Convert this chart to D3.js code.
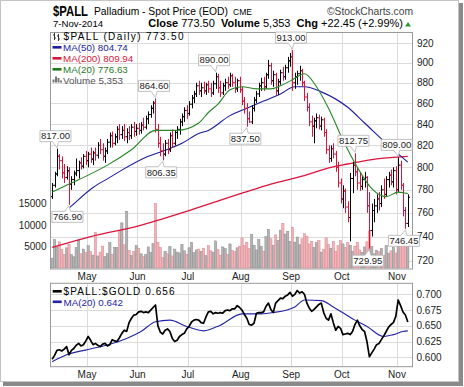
<!DOCTYPE html>
<html><head><meta charset="utf-8">
<script src="https://cdn.jsdelivr.net/npm/d3@7"></script>
<style>body{margin:0;background:#fff}svg{display:block}text{font-family:"Liberation Sans",Arial,sans-serif}</style>
</head><body><svg id="c" width="464" height="387"></svg>
<script>
// ---------- DATA ----------
const openP=[774,784,794,810,806,795,791,796,785,789,
795,797,804,801,810,806,812,807,813,811,
820,816,810,815,823,829,822,828,835,830,
834,828,832,829,837,833,836,834,839,837,
845,849,855,860,835,822,815,812,822,816,
829,822,832,835,842,847,853,850,859,865,
869,877,872,875,872,878,874,870,879,886,
875,870,877,880,878,887,880,874,882,873,
862,855,845,842,855,863,869,877,880,876,
888,897,882,888,872,881,890,886,895,902,
906,880,886,889,892,880,866,856,842,838,
843,846,838,844,832,816,808,817,812,800,
786,772,779,765,756,790,802,796,786,783,
789,791,766,745,762,766,772,768,780,776,
789,793,787,797,780,802,784,762,751];
const highP=[786,796,817,812,810,803,801,800,792,797,
808,806,809,812,815,814,818,815,818,823,
826,822,818,826,832,833,831,838,840,838,
840,836,838,840,842,840,841,842,846,848,
852,858,862,864.6,840,828,822,825,826,832,
835,834,838,845,850,856,858,862,868,872,
880,882,880,881,880,882,880,882,890,889,
882,880,884,886,890,889,886,884,886,876,
866,860,852,858,866,872,880,885,886,890,
903,900,892,890,884,893,896,898,906,910,
913,890,892,897,894,882,870,860,848,846,
850,849,847,846,835,820,820,822,815,805,
790,784,781,770,795,805,812.75,800,795,792,
796,792,778,768,772,776,778,784,790,792,
796,798,800,801,809,806,786,765,776];
const lowP=[772,782,792,798,790,786,789,766.9,780,784,
792,790,798,799,802,800,804,802,806,808,
812,806,804,812,818,818,820,822,825,826,
824,822,825,826,828,829,830,831,834,835,
840,846,850,832,818,810,806.35,810,812,814,
818,820,826,830,838,842,845,848,855,860,
866,868,866,869,868,870,866,868,874,870,
866,868,872,874,876,876,870,871,870,858,
850,837.5,841,840,852,860,866,872,872,874,
884,878,876,868,868,878,882,883,890,896,
872,874,878,882,876,862,852,838,828,822,
836,835,834,828,812,804,805,808,796,782,
768,764,760,752,736,777,792,780,779,780,
782,760,729.95,740,752,760,762,765,772,774,
782,784,782,776,778,780,757,746.45,748];
const closeP=[784,794,810,806,795,791,797,785,789,794,
797,804,801,810,806,812,808,813,811,820,
816,810,815,823,829,822,828,835,830,834,
828,832,829,837,833,836,834,839,837,845,
849,855,860,835,822,815,812,822,816,829,
822,832,835,842,847,853,850,859,865,869,
877,872,875,872,878,874,870,879,886,875,
870,877,880,878,887,880,874,882,873,862,
855,845,842,855,863,869,877,880,876,888,
897,882,888,872,881,890,886,895,902,906,
880,886,889,892,880,866,856,842,838,843,
846,838,844,832,816,808,817,812,800,786,
772,779,765,756,790,802,796,786,783,789,
791,766,745,762,766,772,768,780,776,789,
793,787,797,780,802,784,762,751.05,773.5];
const volume=[2300,6600,4900,6100,4300,3200,4700,5500,3100,2600,
4800,6500,3300,4400,3600,5200,3800,3000,8300,2800,
3700,5100,2700,3400,5900,3200,4800,4800,8700,10500,
5400,13200,4100,2900,3800,5200,4600,3300,2700,3100,
4900,3600,5700,15000,6000,4800,2400,3900,3300,5000,
2800,4400,3700,3500,5500,4000,3200,4700,6000,3600,
4200,4400,3900,4600,2900,5200,4000,3700,6300,4300,
3000,4900,4500,3200,5600,4100,3800,4700,5100,7000,
5200,6000,4500,7800,5300,4200,6600,5000,3900,7300,
9000,6800,5300,7700,6400,8800,10400,7900,8500,6200,
9500,6000,7200,5400,6800,8000,7400,5600,6200,4800,
5900,6400,3700,4300,7000,5500,4600,6200,3900,5200,
6400,5600,4800,5900,5300,3900,5100,6000,4200,3600,
4900,6100,8600,5000,3300,4100,3800,4500,2900,5200,
3400,4000,4800,3500,5800,6100,5200,5600,5353];
const ratio=[0.597,0.603,0.611,0.612,0.610,0.613,0.617,0.604,0.611,0.614,
0.619,0.622,0.618,0.620,0.626,0.633,0.627,0.620,0.622,0.619,
0.617,0.621,0.622,0.618,0.620,0.628,0.626,0.625,0.631,0.638,
0.643,0.641,0.655,0.662,0.667,0.668,0.672,0.673,0.671,0.672,
0.671,0.675,0.679,0.683,0.650,0.640,0.637,0.643,0.645,0.641,
0.630,0.625,0.627,0.633,0.636,0.638,0.645,0.649,0.656,0.659,
0.660,0.659,0.655,0.654,0.664,0.672,0.673,0.669,0.671,0.670,
0.671,0.670,0.674,0.675,0.674,0.677,0.677,0.682,0.679,0.675,
0.668,0.662,0.652,0.651,0.654,0.670,0.671,0.671,0.672,0.681,
0.686,0.676,0.671,0.686,0.690,0.694,0.693,0.697,0.699,0.703,
0.697,0.700,0.706,0.702,0.704,0.700,0.686,0.678,0.673,0.676,
0.680,0.684,0.686,0.671,0.662,0.659,0.669,0.655,0.643,0.649,
0.646,0.636,0.637,0.638,0.636,0.641,0.652,0.659,0.650,0.644,
0.641,0.625,0.601,0.607,0.613,0.620,0.622,0.628,0.634,0.641,
0.648,0.652,0.655,0.665,0.691,0.682,0.672,0.667,0.656];
// moving averages at sample bars
const ma20Idx=[0,8,15,23,33,43,52,61,65,69,74,79,85,91,95,100,105,110,115,121,127,133,139,144,148];
const ma20Val=[778,786,793,802,816,834,834,841,851,859,873,876,874,874,877,883,889,876,855,825,800,781,774,778,776.63];
const ma50Idx=[0,7,17,24,29,40,45,54,61,65,74,81,88,95,101,105,112,123,130,141,148];
const ma50Val=[752,764,782,791,797.5,810,814,822,831,834,848,855,862,869,876,876,871,856,841,818,804.74];
const ma200Idx=[0,16,36,57,79,91,104,116,123,133,148];
const ma200Val=[731,740,749,762,777,785,792,800,803,807,809.94];
const rMaIdx=[0,6,15,23,31,37,43,49,56,63,70,79,87,92,101,105,112,117,126,131,138,142,146,148];
const rMaVal=[0.593,0.604,0.6125,0.6195,0.630,0.641,0.6565,0.659,0.649,0.642,0.651,0.669,0.669,0.671,0.680,0.691,0.690,0.680,0.659,0.649,0.633,0.636,0.641,0.642];
const monthLabels=["May","Jun","Jul","Aug","Sep","Oct","Nov"];
const monthIdx=[15,36,57,79,100,121,144];
const priceTicks=[920,900,880,860,840,820,800,780,760,740,720];
const volTicks=[5000,10000,15000];
const ratioTicks=[0.600,0.625,0.650,0.675,0.700];
const annIdx=[2,7,43,46,68,81,100,126,132,144,147];
const annVal=[817.00,766.90,864.60,806.35,890.00,837.50,913.00,812.75,729.95,809.00,746.45];
const annPos=["hi","lo","hi","lo","hi","lo","hi","hi","lo","hi","lo"];

// ---------- LAYOUT ----------
const svg=d3.select("#c");
const P={l:50,r:413,t:32,b:268.5}, L={t:283.3,b:366.7};
const N=closeP.length;
const x=d3.scaleLinear().domain([-0.9,150.16]).range([P.l,P.r]);
const y=d3.scaleLog().domain([713.8,931.8]).range([P.b,P.t]);
const yv=d3.scaleLinear().domain([0,15000]).range([268,203.5]);
const yr=d3.scaleLinear().domain([0.6,0.7]).range([357.3,294.3]);
const up=i=> i===0 ? true : closeP[i]>=closeP[i-1];
const RED="#d9133a";

// frame with shadow
svg.append("rect").attr("x",3).attr("y",3).attr("width",460).attr("height",383).attr("fill","#8a8a8a");
svg.append("rect").attr("x",0.5).attr("y",0.5).attr("width",458).attr("height",381).attr("fill","#fff").attr("stroke","#c4c4c4");

// header
svg.append("text").attr("x",53).attr("y",16).attr("font-size",15).attr("font-weight","bold")
  .attr("textLength",35).attr("lengthAdjust","spacingAndGlyphs").text("$PALL");
svg.append("text").attr("x",94).attr("y",15).attr("font-size",10.3).text("Palladium - Spot Price (EOD)");
svg.append("text").attr("x",233).attr("y",15).attr("font-size",8.5).attr("font-family","DejaVu Sans Mono").text("CME");
svg.append("text").attr("x",413).attr("y",14.5).attr("font-size",10.3).attr("text-anchor","end").attr("fill","#444").text("©StockCharts.com");
svg.append("text").attr("x",53).attr("y",27).attr("font-size",9.6).text("7-Nov-2014");
const hl=svg.append("text").attr("x",403).attr("y",27).attr("font-size",11).attr("text-anchor","end");
[["Close ",1],["773.50  ",0],["Volume ",1],["5,353  ",0],["Chg ",1],["+22.45 (+2.99%)",0]].forEach(([t,b])=>{
  hl.append("tspan").attr("font-weight",b?"bold":"normal").attr("xml:space","preserve").text(t);
});
svg.append("path").attr("d","M405,26.5 L411,26.5 L408,22 Z").attr("fill","#2e9a2e");

// ---------- MAIN PANEL ----------
const g=svg.append("g");
const gx=i=>Math.round(x(i-0.5))+0.5;
g.selectAll("line.hg").data(priceTicks).join("line")
  .attr("x1",P.l).attr("x2",P.r).attr("y1",d=>Math.round(y(d))+0.5).attr("y2",d=>Math.round(y(d))+0.5)
  .attr("stroke","#dcdcdc");
g.selectAll("line.vg").data(monthIdx).join("line")
  .attr("x1",gx).attr("x2",gx).attr("y1",P.t).attr("y2",P.b).attr("stroke","#dcdcdc");

// volume
g.selectAll("rect.vol").data(d3.range(N)).join("rect")
  .attr("x",i=>x(i)-1.15).attr("width",2.3)
  .attr("y",i=>yv(volume[i])).attr("height",i=>yv(0)-yv(volume[i]))
  .attr("fill",i=>up(i)?"#b4b4b4":"#f1b3b8").attr("stroke",i=>up(i)?"#8a8a8a":"#d88a92").attr("stroke-width",0.5);

// MAs
const maLine=(idx,val)=>d3.line().curve(d3.curveMonotoneX).x((d,k)=>x(idx[k])).y(d=>y(d))(val);
g.append("path").attr("d",maLine(ma200Idx,ma200Val)).attr("fill","none").attr("stroke","#dc143c").attr("stroke-width",1.3);
g.append("path").attr("d",maLine(ma50Idx,ma50Val)).attr("fill","none").attr("stroke","#1c1ca0").attr("stroke-width",1.1);

// price bars
const bx=i=>Math.round(x(i))+0.5;
const bars=g.selectAll("g.bar").data(d3.range(N)).join("g").attr("stroke",i=>up(i)?"#000":RED);
bars.append("line").attr("x1",bx).attr("x2",bx).attr("y1",i=>y(highP[i])).attr("y2",i=>y(lowP[i]));
bars.append("line").attr("x1",i=>bx(i)-1.5).attr("x2",bx).attr("y1",i=>y(openP[i])).attr("y2",i=>y(openP[i]));
bars.append("line").attr("x1",bx).attr("x2",i=>bx(i)+1.5).attr("y1",i=>y(closeP[i])).attr("y2",i=>y(closeP[i]));

g.append("path").attr("d",maLine(ma20Idx,ma20Val)).attr("fill","none").attr("stroke","#268526").attr("stroke-width",1.1);

// panel border
svg.append("rect").attr("x",P.l+0.5).attr("y",P.t+0.5).attr("width",P.r-P.l-1).attr("height",P.b-P.t).attr("fill","none").attr("stroke","#9a9a9a");

// right price labels
svg.selectAll("text.pt").data(priceTicks).join("text").attr("x",417).attr("y",d=>y(d)+3.5)
  .attr("font-size",10).attr("fill","#222").text(d=>d);
// left volume labels
svg.selectAll("text.vt").data(volTicks).join("text").attr("x",46.5).attr("y",d=>yv(d)+3.5)
  .attr("font-size",10).attr("fill","#222").attr("text-anchor","end").text(d=>d);

// annotations
annIdx.forEach((i,k)=>{
  const v=annVal[k], t=v.toFixed(2), tipX=x(i), cx=tipX-1.5, w=31, h=11;
  const left=cx-w/2, right=cx+w/2;
  let d, top;
  if(annPos[k]==="hi"){
    const tipY=y(v)-1, bot=y(v)-7; top=bot-h;
    d=`M${left},${top}H${right}V${bot}H${cx+3}L${tipX},${tipY}L${cx-3},${bot}H${left}Z`;
  } else {
    const tipY=y(v)+1; top=y(v)+6.5; const bot=top+h;
    d=`M${left},${top}H${cx-3}L${tipX},${tipY}L${cx+3},${top}H${right}V${bot}H${left}Z`;
  }
  svg.append("path").attr("d",d).attr("fill","#fff").attr("stroke","#b0b0b0").attr("stroke-width",0.8);
  svg.append("text").attr("x",cx).attr("y",top+8.7).attr("text-anchor","middle").attr("font-size",9.5).attr("fill","#222").text(t);
});

// legend main
const lg=svg.append("g");
// ohlc icon
lg.append("path").attr("d","M54.5,33V40M53,35H54.5M54.5,38H56M58.5,34V41M57,36H58.5M58.5,39H60").attr("stroke","#333").attr("fill","none");
lg.append("text").attr("x",63.5).attr("y",39.5).attr("font-size",10).attr("font-family","DejaVu Sans")
  .attr("textLength",120).attr("lengthAdjust","spacing").text("$PALL (Daily) 773.50");
const legRows=[["MA(50) 804.74","#1c1ca0",50.5],["MA(200) 809.94","#dc143c",61.5],["MA(20) 776.63","#1f7a1f",72.5]];
legRows.forEach(([t,c,yy])=>{
  lg.append("rect").attr("x",52.5).attr("y",yy-4.5).attr("width",9).attr("height",2.6).attr("fill",c);
  lg.append("text").attr("x",63).attr("y",yy).attr("font-size",9.8).attr("fill",c).text(t);
});
[[52.5,3],[55,6],[57.5,4.5],[60,2]].forEach(([bxx,hh])=>lg.append("rect").attr("x",bxx).attr("y",82.5-hh).attr("width",2).attr("height",hh).attr("fill","#777"));
lg.append("text").attr("x",63).attr("y",83.5).attr("font-size",9.8).attr("fill","#555").text("Volume 5,353");

// month labels
[280,378].forEach(yy=>{
  svg.selectAll(null).data(monthIdx).join("text").attr("x",i=>x(i-0.5)).attr("y",yy)
    .attr("text-anchor","middle").attr("font-size",10).attr("fill","#222").text((d,k)=>monthLabels[k]);
});

// ---------- LOWER PANEL ----------
const lgp=svg.append("g");
lgp.selectAll("line.h").data(ratioTicks).join("line").attr("x1",P.l).attr("x2",P.r)
  .attr("y1",d=>Math.round(yr(d))+0.5).attr("y2",d=>Math.round(yr(d))+0.5).attr("stroke","#dcdcdc");
lgp.selectAll("line.v").data(monthIdx).join("line").attr("x1",gx).attr("x2",gx).attr("y1",L.t).attr("y2",L.b).attr("stroke","#dcdcdc");
lgp.append("path").attr("d",d3.line().curve(d3.curveMonotoneX).x((d,k)=>x(rMaIdx[k])).y(d=>yr(d))(rMaVal))
  .attr("fill","none").attr("stroke","#2323a8").attr("stroke-width",1.1);
lgp.append("path").attr("d",d3.line().x((d,i)=>x(i)).y(d=>yr(d))(ratio))
  .attr("fill","none").attr("stroke","#000").attr("stroke-width",1.7).attr("stroke-linejoin","round");
svg.append("rect").attr("x",P.l+0.5).attr("y",L.t).attr("width",P.r-P.l-1).attr("height",L.b-L.t).attr("fill","none").attr("stroke","#9a9a9a");
svg.selectAll("text.rt").data(ratioTicks).join("text").attr("x",416.5).attr("y",d=>yr(d)+3.5)
  .attr("font-size",10).attr("fill","#222").text(d=>d3.format(".3f")(d));
lgp.append("rect").attr("x",52.7).attr("y",290).attr("width",9).attr("height",2.6).attr("fill","#000");
lgp.append("text").attr("x",63.5).attr("y",295).attr("font-size",10).attr("font-family","DejaVu Sans")
  .attr("textLength",111).attr("lengthAdjust","spacing").text("$PALL:$GOLD 0.656");
lgp.append("rect").attr("x",52.7).attr("y",300.5).attr("width",9).attr("height",2.6).attr("fill","#2323a8");
lgp.append("text").attr("x",63.5).attr("y",305.5).attr("font-size",9.8).attr("fill","#2323a8").text("MA(20) 0.642");
</script></body></html>
